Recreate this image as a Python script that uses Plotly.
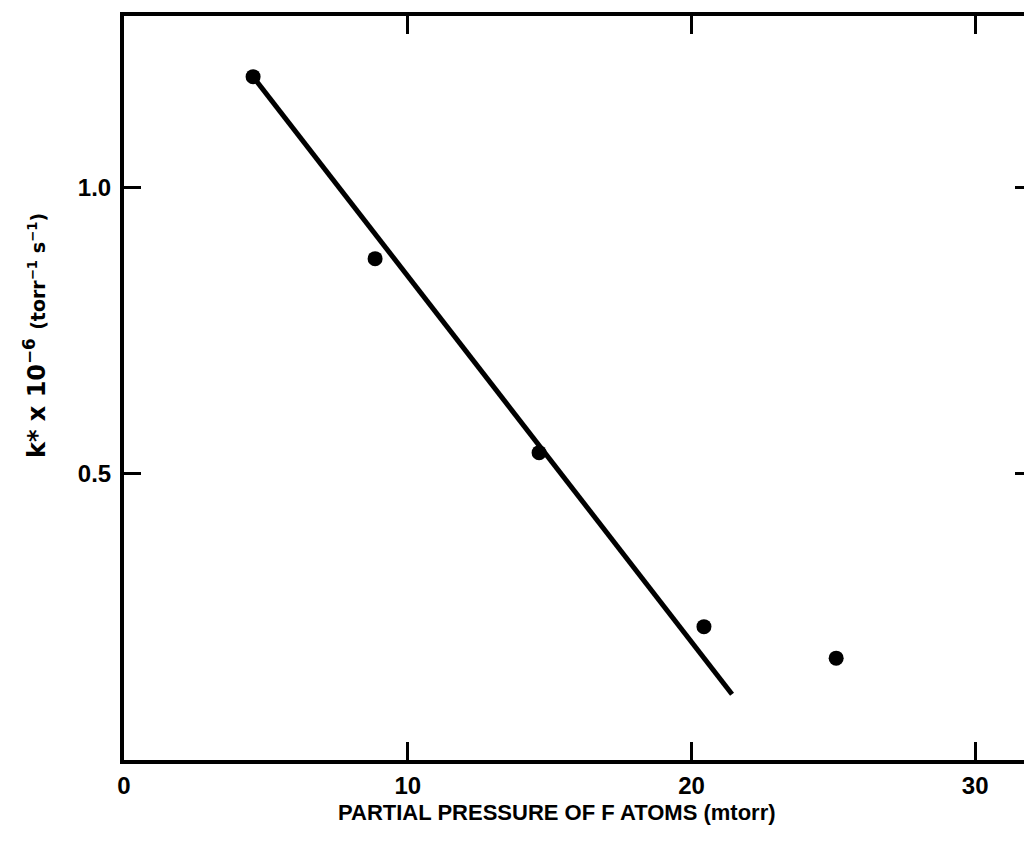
import plotly.graph_objects as go

# Measured rate constant vs. F-atom partial pressure
pressure_mtorr = [4.55, 8.85, 14.63, 20.44, 25.10]
k_star = [1.194, 0.876, 0.537, 0.233, 0.178]

# Straight-line fit through the low-pressure points
fit_x = [4.55, 21.43]
fit_y = [1.194, 0.115]

x_ticks = [0, 10, 20, 30]
x_tick_text = ["0", "10", "20", "30"]
y_ticks = [0.5, 1.0]
y_tick_text = ["0.5", "1.0"]

FONT = "Liberation Sans"
WIDE_FONT = "DejaVu Sans"
INK = "#000000"

fig = go.Figure()

fig.add_trace(go.Scatter(
    x=fit_x, y=fit_y, mode="lines",
    line=dict(color=INK, width=5),
    showlegend=False, hoverinfo="skip",
))
fig.add_trace(go.Scatter(
    x=pressure_mtorr, y=k_star, mode="markers",
    marker=dict(color=INK, size=15, symbol="circle"),
    showlegend=False,
))
# invisible trace carrying the right-hand tick axis
fig.add_trace(go.Scatter(
    x=[None], y=[None], xaxis="x", yaxis="y2",
    showlegend=False, hoverinfo="skip",
))

fig.update_layout(
    width=1024, height=843,
    margin=dict(l=124, r=0, t=16, b=83),
    paper_bgcolor="white", plot_bgcolor="white",
    xaxis=dict(
        range=[0, 31.72],
        tickvals=x_ticks, ticktext=x_tick_text,
        ticks="inside", ticklen=18, tickwidth=3, tickcolor=INK,
        showline=True, linewidth=4, linecolor=INK, mirror="ticks",
        showgrid=False, zeroline=False,
        tickfont=dict(family=FONT, size=24, color=INK, weight="bold"),
        ticklabelstandoff=1,
    ),
    yaxis=dict(
        range=[0, 1.30],
        tickvals=y_ticks, ticktext=y_tick_text,
        ticks="inside", ticklen=17, tickwidth=3, tickcolor=INK,
        showline=True, linewidth=4, linecolor=INK,
        showgrid=False, zeroline=False,
        tickfont=dict(family=FONT, size=24, color=INK, weight="bold"),
        ticklabelstandoff=4,
    ),
    yaxis2=dict(
        range=[0, 1.30], overlaying="y", side="right",
        tickvals=y_ticks, showticklabels=False,
        ticks="inside", ticklen=9, tickwidth=3, tickcolor=INK,
        showline=False, showgrid=False, zeroline=False,
    ),
    annotations=[
        dict(
            text="PARTIAL PRESSURE OF F ATOMS (mtorr)",
            xref="paper", yref="paper", x=0.481, y=-0.0712,
            xanchor="center", yanchor="middle", showarrow=False,
            font=dict(family=FONT, size=22, color=INK, weight="bold"),
        ),
        dict(
            text=("k* x 10<sup>\u22126</sup> "
                  "<span style='font-size:19px'>(torr<sup>\u22121</sup> s<sup>\u22121</sup>)</span>"),
            xref="paper", yref="paper", x=-0.099, y=0.571,
            xanchor="center", yanchor="middle", showarrow=False, textangle=-90,
            font=dict(family=WIDE_FONT, size=24, color=INK, weight="bold"),
        ),
    ],
)

fig.write_html("out.html")
